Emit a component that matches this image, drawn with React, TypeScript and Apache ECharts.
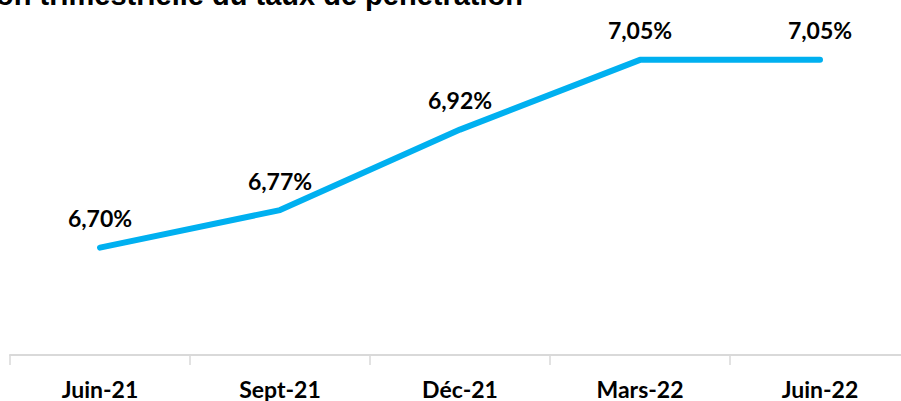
import React, { useEffect, useRef } from "react";
import * as echarts from "echarts";

const categories = ["Juin-21", "Sept-21", "Déc-21", "Mars-22", "Juin-22"];
const values = [6.70, 6.77, 6.92, 7.05, 7.05];
const titleText = "Évolution trimestrielle du taux de pénétration";

const OFFX = 150;
const OFFY = 40;

export default function App() {
  const ref = useRef<HTMLDivElement>(null);
  useEffect(() => {
    if (!ref.current) return;
    const chart = echarts.init(ref.current, null, { renderer: "svg" });
    chart.setOption({
      animation: false,
      backgroundColor: "#ffffff",
      graphic: [
        {
          type: "text",
          x: 523 + OFFX,
          y: 9 + OFFY,
          style: {
            text: titleText,
            fill: "#000000",
            font: "bold 29px 'Liberation Sans', Arial, sans-serif",
            align: "right",
            verticalAlign: "bottom",
          },
        },
      ],
      grid: { left: 10 + OFFX, width: 900, top: 33 + OFFY, height: 322 },
      xAxis: {
        type: "category",
        data: categories,
        boundaryGap: true,
        axisLine: { lineStyle: { color: "#d9d9d9", width: 2 } },
        axisTick: { show: true, length: 10, lineStyle: { color: "#d9d9d9", width: 1.5 } },
        axisLabel: {
          color: "#000000",
          fontFamily: "Lato, 'Open Sans', sans-serif",
          fontWeight: "bold",
          fontSize: 23,
          margin: 22,
        },
      },
      yAxis: {
        type: "value",
        min: 6.5,
        max: 7.1,
        show: false,
        splitLine: { show: false },
      },
      series: [
        {
          type: "line",
          data: values,
          showSymbol: true,
          symbol: "circle",
          symbolSize: 2,
          itemStyle: { color: "rgba(0,0,0,0)", borderWidth: 0 },
          lineStyle: { color: "#00b0f0", width: 6, cap: "round", join: "round" },
          label: {
            show: true,
            position: "top",
            distance: 17,
            color: "#000000",
            fontFamily: "Lato, 'Open Sans', sans-serif",
            fontWeight: "bold",
            fontSize: 23,
            formatter: (p: any) => p.value.toFixed(2).replace(".", ",") + "%",
          },
        },
      ],
    });
    return () => chart.dispose();
  }, []);
  return (
    <div style={{ position: "fixed", left: 0, top: 0, width: 901, height: 401, overflow: "hidden", background: "#fff" }}>
      <div
        ref={ref}
        style={{ position: "absolute", left: -OFFX, top: -OFFY, width: 1100, height: 441 }}
      />
    </div>
  );
}
